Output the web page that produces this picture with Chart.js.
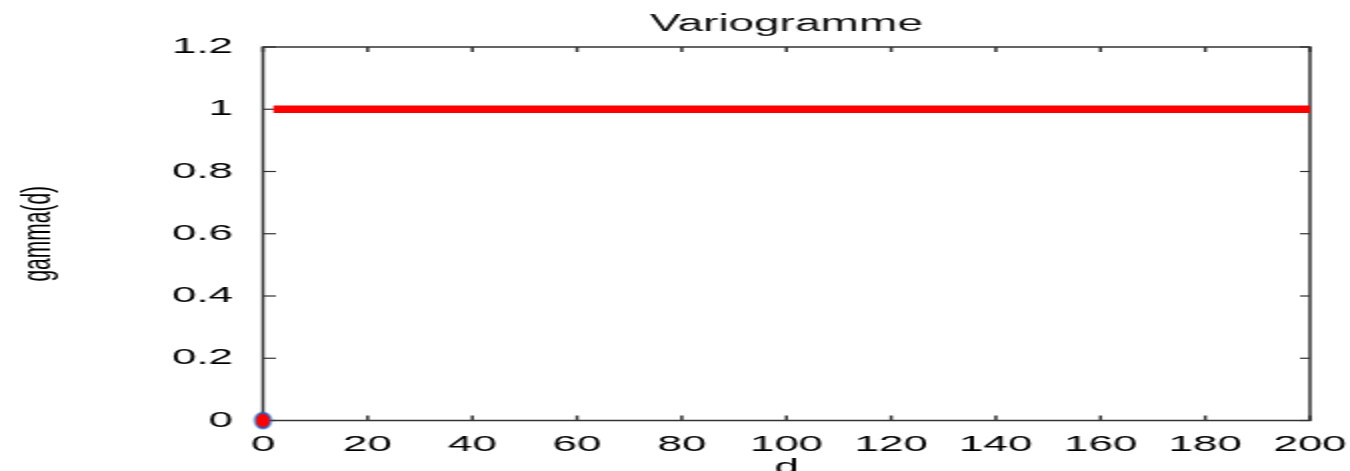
<!DOCTYPE html>
<html>
<head>
<meta charset="utf-8">
<script src="https://cdn.jsdelivr.net/npm/chart.js@4.4.1/dist/chart.umd.min.js"></script>
<style>
  html, body { margin: 0; padding: 0; background: #fff; overflow: hidden; }
  #wrap { width: 1350px; height: 471px; overflow: hidden; }
  /* the plot is laid out at half width and stretched horizontally */
  #c { display: block; transform: scaleX(2); transform-origin: 0 0; }
</style>
</head>
<body>
<div id="wrap"><canvas id="c" width="675" height="471"></canvas></div>
<script>
// tick labels
const xTicks = [0, 20, 40, 60, 80, 100, 120, 140, 160, 180, 200];
const yTicks = [0, 0.2, 0.4, 0.6, 0.8, 1, 1.2];

// model variogram (nugget plateau)
const lagD = [2, 200];
const gammaD = [1, 1];

// experimental value at the origin
const originD = [0];
const originGamma = [0];

const FONT = 'Liberation Sans, Arial, Helvetica, sans-serif';
const INK = '#333333';

// round marker, pre-squeezed so it comes out circular after the horizontal stretch
function dotImage() {
  const c = document.createElement('canvas');
  c.width = 12; c.height = 20;
  const g = c.getContext('2d');
  g.setTransform(0.5, 0, 0, 1, 0, 0);
  g.beginPath();
  g.arc(12, 10, 7.8, 0, Math.PI * 2);
  g.fillStyle = '#ff0000';
  g.fill();
  g.lineWidth = 2;
  g.strokeStyle = '#1f5fbf';
  g.stroke();
  return c;
}

// gnuplot-like frame with inward ticks on all four sides
const frame = {
  id: 'frame',
  beforeDatasetsDraw(chart) {
    const { ctx, chartArea: a, scales: { x, y } } = chart;
    ctx.save();
    ctx.strokeStyle = INK;
    const seg = (x1, y1, x2, y2) => { ctx.beginPath(); ctx.moveTo(x1, y1); ctx.lineTo(x2, y2); ctx.stroke(); };
    ctx.lineWidth = 1.5;
    x.ticks.forEach(t => {
      const px = x.getPixelForValue(t.value);
      seg(px, a.bottom, px, a.bottom - 5);
      seg(px, a.top, px, a.top + 5);
    });
    ctx.lineWidth = 1.2;
    y.ticks.forEach(t => {
      const py = y.getPixelForValue(t.value);
      seg(a.left, py, a.left + 6.5, py);
      seg(a.right, py, a.right - 5, py);
    });
    ctx.lineWidth = 1.5;
    ctx.strokeRect(a.left, a.top, a.right - a.left, a.bottom - a.top);
    ctx.restore();
  }
};

const fmt = v => String(Number(Number(v).toFixed(2)));

new Chart(document.getElementById('c'), {
  type: 'line',
  data: {
    datasets: [
      {
        data: lagD.map((d, i) => ({ x: d, y: gammaD[i] })),
        borderColor: '#ff0000',
        backgroundColor: '#ff0000',
        borderWidth: 7.5,
        borderCapStyle: 'butt',
        pointRadius: 0,
        fill: false,
        clip: 1.5,
        order: 2
      },
      {
        data: originD.map((d, i) => ({ x: d, y: originGamma[i] })),
        showLine: false,
        pointStyle: dotImage(),
        pointRadius: 8,
        clip: false,
        order: 1
      }
    ]
  },
  options: {
    responsive: false,
    animation: false,
    devicePixelRatio: 1,
    layout: { padding: { left: 0, right: 20, top: 0, bottom: 0 } },
    plugins: {
      legend: { display: false },
      tooltip: { enabled: false },
      title: {
        display: true,
        text: 'Variogramme',
        fullSize: false,
        color: '#111',
        font: { family: FONT, size: 23, weight: 'normal', lineHeight: 1.2 },
        padding: { top: 11, bottom: 8.4 }
      }
    },
    scales: {
      x: {
        type: 'linear',
        min: 0, max: 200,
        afterBuildTicks: s => { s.ticks = xTicks.map(v => ({ value: v })); },
        afterFit: s => { s.height = 50.5; s.paddingLeft = 0; s.paddingRight = 0; },
        grid: { display: false, drawTicks: false },
        border: { display: false },
        ticks: { color: '#000', padding: 11, maxRotation: 0, autoSkip: false,
                 font: { family: FONT, size: 22 }, callback: fmt },
        title: { display: true, text: 'd', color: '#000',
                 font: { family: FONT, size: 22, lineHeight: 0.3 }, padding: { top: 0, bottom: 0 } }
      },
      y: {
        type: 'linear',
        min: 0, max: 1.2,
        afterBuildTicks: s => { s.ticks = yTicks.map(v => ({ value: v })); },
        afterFit: s => { s.width = 131.5; s.paddingTop = 0; s.paddingBottom = 0; },
        grid: { display: false, drawTicks: false },
        border: { display: false },
        ticks: { color: '#000', padding: 15, autoSkip: false,
                 font: { family: FONT, size: 22 }, callback: fmt },
        title: { display: true, text: 'gamma(d)', color: '#000',
                 font: { family: FONT, size: 21, lineHeight: 1.2 }, padding: { top: 7, bottom: 0 } }
      }
    }
  },
  plugins: [frame]
});
</script>
</body>
</html>
